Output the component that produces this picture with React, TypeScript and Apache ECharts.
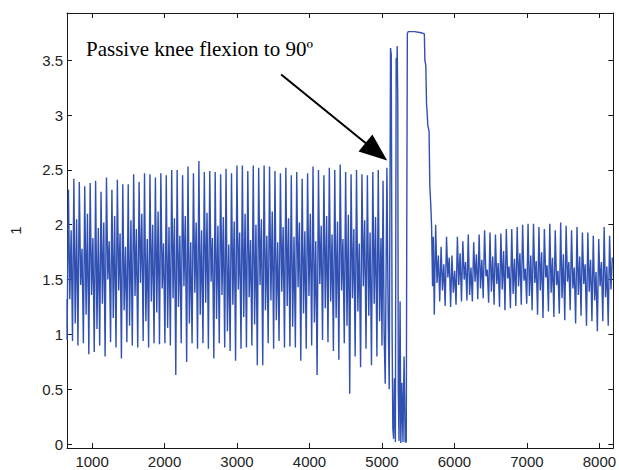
import React, { useEffect, useRef } from "react";
import * as echarts from "echarts";

// Axis ticks
const xTicks = [1000, 2000, 3000, 4000, 5000, 6000, 7000, 8000];
const yTicks = [0, 0.5, 1, 1.5, 2, 2.5, 3, 3.5];
const xRange = [654, 8192];
const yRange = [-0.035, 3.93];

// Regular oscillation before the knee flexion (one entry per cycle)
const segAStart = 655;
const cycleStep = 75;
const peakA = [
  2.32, 2.42, 2.39, 2.35, 2.38, 2.40, 2.30, 2.43, 2.32, 2.41,
  2.37, 2.37, 2.46, 2.39, 2.47, 2.46, 2.43, 2.47, 2.45, 2.50,
  2.50, 2.45, 2.53, 2.47, 2.58, 2.48, 2.49, 2.48, 2.46, 2.51,
  2.47, 2.54, 2.54, 2.49, 2.54, 2.52, 2.54, 2.53, 2.49, 2.47,
  2.52, 2.45, 2.48, 2.42, 2.47, 2.53, 2.50, 2.45, 2.52, 2.50,
  2.55, 2.48, 2.46, 2.50, 2.46, 2.45, 2.48, 2.50,
];
const dipA = [
  1.32, 1.10, 1.45, 1.18, 1.36, 1.05, 1.28, 1.50, 1.15, 1.40,
  1.22, 1.08, 1.35, 1.47, 1.12, 1.30, 1.20, 1.42, 1.06, 1.33,
  1.25, 1.44, 1.10, 1.38, 1.18, 1.29, 1.48, 1.14, 1.36, 1.03,
  1.27, 1.41, 1.16, 1.34, 1.09, 1.45, 1.22, 1.31, 1.13, 1.39,
  1.26, 1.07, 1.43, 1.19, 1.35, 1.11, 1.46, 1.24, 1.30, 1.15,
  1.40, 1.08, 1.33, 1.21, 1.44, 1.17, 1.28, 1.12,
];
const subA = [
  1.95, 2.05, 1.78, 2.10, 1.88, 1.97, 2.02, 1.85, 2.08, 1.92,
  1.80, 2.04, 1.96, 2.10, 1.87, 2.00, 2.12, 1.83, 1.98, 2.06,
  1.90, 2.08, 1.84, 2.02, 1.95, 2.11, 1.88, 1.99, 2.07, 1.82,
  2.03, 1.93, 2.10, 1.86, 2.00, 2.05, 1.90, 2.12, 1.84, 1.98,
  2.06, 1.89, 2.02, 1.94, 2.10, 1.85, 1.99, 2.08, 1.91, 2.03,
  1.87, 2.09, 1.96, 1.83, 2.04, 1.93, 2.07, 1.88,
];
const troughA = [
  0.95, 0.94, 0.90, 0.92, 0.82, 0.84, 0.90, 0.80, 0.93, 0.88,
  0.78, 0.93, 0.90, 0.88, 0.94, 0.88, 0.92, 0.91, 0.92, 0.90,
  0.63, 0.92, 0.75, 0.92, 0.87, 0.92, 0.87, 0.78, 0.92, 0.88,
  0.85, 0.76, 0.87, 0.88, 0.90, 0.72, 0.72, 0.92, 0.87, 0.94,
  0.88, 0.89, 0.88, 0.76, 0.87, 0.90, 0.63, 0.95, 0.93, 0.85,
  0.77, 0.92, 0.46, 0.80, 0.70, 0.87, 0.72, 0.80,
];

// Flexion event: spikes and plateau
const spikeX = [
  5000, 5015, 5030, 5045, 5068, 5085, 5100, 5118, 5128, 5140,
  5150, 5160, 5172, 5185, 5196, 5205, 5210, 5218, 5225, 5235,
  5250, 5260, 5275, 5290, 5305, 5320, 5335, 5342, 5350, 5360,
  5450, 5540, 5585, 5592, 5605, 5615, 5625, 5632, 5650, 5660,
  5672, 5685, 5698, 5708,
];
const spikeY = [
  0.90, 2.40, 1.00, 0.55, 2.52, 1.20, 0.50, 3.61, 3.55, 1.00,
  0.15, 0.05, 0.60, 0.02, 3.52, 3.40, 3.63, 3.12, 0.50, 0.03,
  1.30, 0.01, 0.56, 0.02, 0.80, 0.02, 0.02, 1.95, 3.74, 3.76,
  3.76, 3.75, 3.74, 3.50, 3.45, 3.10, 3.00, 2.91, 2.85, 2.36,
  2.20, 1.98, 1.44, 1.89,
];

// Oscillation after the flexion
const segCStart = 5722;
const troughC = [
  1.18, 1.30, 1.26, 1.25, 1.27, 1.30, 1.31, 1.30, 1.32, 1.33,
  1.29, 1.27, 1.25, 1.22, 1.24, 1.26, 1.27, 1.28, 1.22, 1.18,
  1.15, 1.21, 1.16, 1.19, 1.13, 1.22, 1.10, 1.17, 1.08, 1.12,
  1.03, 1.12, 1.08,
];
const peakC = [
  2.00, 1.80, 1.89, 1.72, 1.89, 1.85, 1.91, 1.84, 1.91, 1.95,
  1.93, 1.91, 1.92, 1.96, 1.96, 1.98, 2.00, 2.01, 2.01, 1.98,
  1.96, 2.01, 1.95, 2.02, 1.99, 1.95, 1.98, 1.93, 1.93, 1.90,
  1.87, 1.98, 1.90,
];
const dipC = [
  1.47, 1.40, 1.52, 1.38, 1.45, 1.50, 1.36, 1.48, 1.42, 1.53,
  1.39, 1.46, 1.41, 1.51, 1.37, 1.44, 1.49, 1.35, 1.47, 1.40,
  1.52, 1.38, 1.45, 1.33, 1.48, 1.42, 1.36, 1.46, 1.39, 1.31,
  1.44, 1.34, 1.41,
];
const subC = [
  1.72, 1.64, 1.70, 1.58, 1.74, 1.66, 1.61, 1.73, 1.68, 1.59,
  1.71, 1.65, 1.76, 1.62, 1.69, 1.74, 1.60, 1.72, 1.67, 1.75,
  1.63, 1.70, 1.58, 1.73, 1.66, 1.61, 1.71, 1.64, 1.68, 1.57,
  1.66, 1.62, 1.70,
];

const startValue = 1.32;
const annotationText = "Passive knee flexion to 90º";
const arrowFrom = [3609, 3.37];
const arrowTo = [4922, 2.665];

function cycles(start: number, tr: number[], pk: number[], dp: number[], sb: number[]) {
  const out: number[][] = [];
  for (let i = 0; i < pk.length; i++) {
    const x0 = start + i * cycleStep;
    out.push([x0, tr[i]]);
    out.push([x0 + cycleStep * 0.25, pk[i]]);
    out.push([x0 + cycleStep * 0.5, dp[i]]);
    out.push([x0 + cycleStep * 0.75, sb[i]]);
  }
  return out;
}

const BLUE = "#3050b2";
const AXIS = "#1a1a1a";
const FONT = "'Liberation Sans', Arial, sans-serif";

export default function App() {
  const ref = useRef<HTMLDivElement>(null);
  useEffect(() => {
    if (!ref.current) return;
    const chart = echarts.init(ref.current, undefined, { renderer: "svg" });
    const data: number[][] = [[xRange[0], startValue]];
    data.push(...cycles(segAStart, troughA, peakA, dipA, subA));
    spikeX.forEach((x, i) => data.push([x, spikeY[i]]));
    data.push(...cycles(segCStart, troughC, peakC, dipC, subC));

    const xBase = {
      type: "value" as const,
      min: xRange[0],
      max: xRange[1],
      splitLine: { show: false },
      axisLine: { show: true, onZero: false, lineStyle: { color: AXIS, width: 1 } },
      axisTick: { show: true, inside: true, length: 5, customValues: xTicks, lineStyle: { color: AXIS } },
    };
    const yBase = {
      type: "value" as const,
      min: yRange[0],
      max: yRange[1],
      splitLine: { show: false },
      axisLine: { show: true, onZero: false, lineStyle: { color: AXIS, width: 1 } },
      axisTick: { show: true, inside: true, length: 5, customValues: yTicks, lineStyle: { color: AXIS } },
    };

    chart.setOption({
      animation: false,
      backgroundColor: "#ffffff",
      grid: { left: 64, right: 3, top: 13, bottom: 22, containLabel: false },
      xAxis: [
        {
          ...xBase,
          position: "bottom",
          axisLabel: {
            customValues: xTicks,
            formatter: (v: number) => String(v),
            color: "#222",
            fontSize: 15,
            fontFamily: FONT,
            margin: 6,
          },
        },
        { ...xBase, position: "top", axisLabel: { show: false } },
      ],
      yAxis: [
        {
          ...yBase,
          position: "left",
          name: "1",
          nameLocation: "middle",
          nameRotate: 90,
          nameGap: 44,
          nameTextStyle: { color: "#222", fontSize: 15, fontFamily: FONT },
          axisLabel: {
            customValues: yTicks,
            formatter: (v: number) => String(v),
            color: "#222",
            fontSize: 15,
            fontFamily: FONT,
            margin: 4,
          },
        },
        { ...yBase, position: "right", axisLabel: { show: false } },
      ],
      series: [
        {
          type: "line",
          data,
          showSymbol: false,
          symbol: "none",
          lineStyle: { color: BLUE, width: 1.4 },
          xAxisIndex: 0,
          yAxisIndex: 0,
          markLine: {
            silent: true,
            symbol: ["none", "triangle"],
            symbolSize: [22, 28],
            label: { show: false },
            lineStyle: { color: "#000", width: 2, type: "solid" },
            itemStyle: { color: "#000" },
            data: [[{ coord: arrowFrom }, { coord: arrowTo }]],
          },
        },
      ],
      graphic: [
        {
          type: "text",
          left: 86,
          top: 38,
          style: {
            text: annotationText,
            fill: "#000",
            font: "21px 'Liberation Serif', 'Times New Roman', serif",
          },
        },
      ],
    });
    return () => chart.dispose();
  }, []);
  return (
    <div
      ref={ref}
      style={{ position: "fixed", left: 0, top: 0, width: 619, height: 470, background: "#fff" }}
    />
  );
}
